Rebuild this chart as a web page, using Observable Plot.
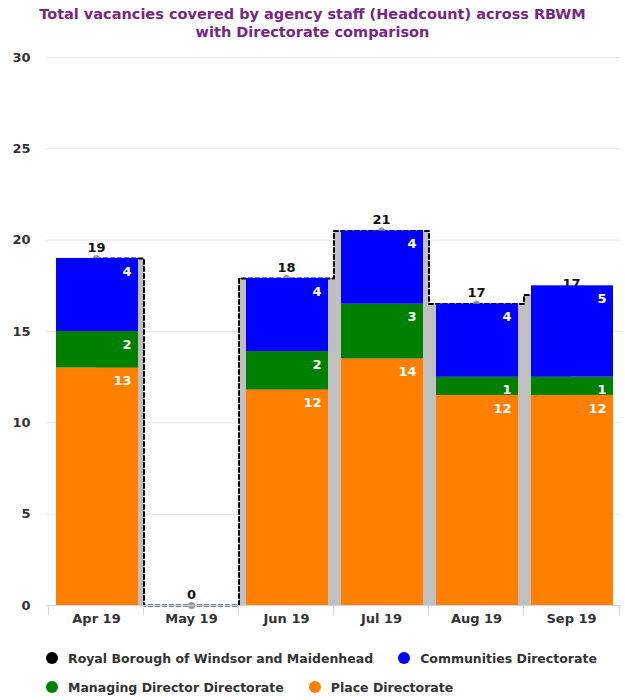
<!DOCTYPE html>
<html>
<head>
<meta charset="utf-8">
<script src="https://cdn.jsdelivr.net/npm/d3@7"></script>
<script src="https://cdn.jsdelivr.net/npm/@observablehq/plot@0.6"></script>
<style>
  body { margin: 0; background: #fff; font-family: "DejaVu Sans", sans-serif; }
  #wrap { width: 625px; }
  #title { height: 42px; box-sizing: border-box; padding-top: 5px; text-align: center;
           color: #76277f; font-weight: bold; font-size: 14.5px; line-height: 18px; }
  #legend { padding: 8px 0 0 46px; font-size: 12.5px; font-weight: bold; color: #333; }
  .row { display: flex; height: 16px; align-items: center; margin-bottom: 13px; }
  .item { display: flex; align-items: center; margin-right: 25px; white-space: nowrap; }
  .dot { width: 12px; height: 12px; border-radius: 50%; margin-right: 10px; }
</style>
</head>
<body>
<div id="wrap">
  <div id="title">Total vacancies covered by agency staff (Headcount) across RBWM<br>with Directorate comparison</div>
  <div id="chart"></div>
  <div id="legend"></div>
</div>
<script>
// Months on the x axis
const months = ["Apr 19", "May 19", "Jun 19", "Jul 19", "Aug 19", "Sep 19"];

// Council-wide total (drawn as a dashed step outline)
const rbwmTotal = [19, 0, 17.9, 20.5, 16.5, 17];

// Directorate headcounts (stacked bars); May has no agency staff
const placeValues = [13, null, 11.8, 13.5, 11.5, 11.5];
const managingValues = [2, null, 2.1, 3, 1, 1];
const communitiesValues = [4, null, 4, 4, 4, 5];

const seriesNames = [
  "Royal Borough of Windsor and Maidenhead",
  "Communities Directorate",
  "Managing Director Directorate",
  "Place Directorate"
];
const seriesColors = ["#000000", "#0000ff", "#008000", "#ff8000"];
const yTicks = [0, 5, 10, 15, 20, 25, 30];

// Stack order: Place at the bottom, then Managing Director, then Communities
const stackOrder = [
  ["Place Directorate", placeValues],
  ["Managing Director Directorate", managingValues],
  ["Communities Directorate", communitiesValues]
];
const stacked = stackOrder.flatMap(([dir, vals]) =>
  months.map((month, i) => ({month, dir, value: vals[i]})).filter(d => d.value != null)
);
const totals = months.map((month, i) => ({month, value: rbwmTotal[i]}));

const W = 625, H = 600, mt = 15, mb = 37, ml = 46, mr = 4;
const step = (W - ml - mr) / months.length;
const fmt = d => String(Math.round(d.value));

const chart = Plot.plot({
  width: W,
  height: H,
  marginTop: mt,
  marginBottom: mb,
  marginLeft: ml,
  marginRight: mr,
  style: "font-family: 'DejaVu Sans', sans-serif; font-weight: bold; background: #fff;",
  x: {type: "band", domain: months, paddingInner: 0.14, paddingOuter: 0.07, label: null},
  y: {domain: [0, 30], label: null},
  color: {domain: seriesNames, range: seriesColors},
  marks: [
    Plot.gridY(yTicks, {stroke: "#e6e6e6", strokeOpacity: 1}),
    Plot.axisY(yTicks, {tickSize: 0, tickPadding: 16, fontSize: 13, fill: "#333", fontWeight: "bold"}),
    Plot.areaY(totals, {x: "month", y: "value", curve: "step", fill: "#c0c0c0"}),
    Plot.lineY(totals, {x: "month", y: "value", curve: "step", stroke: "#000", strokeWidth: 2, strokeDasharray: "4,3"}),
    Plot.dot(totals, {x: "month", y: "value", r: 3.5, fill: "#999"}),
    Plot.text(totals, {x: "month", y: "value", text: fmt, dy: -11, fontSize: 13, fontWeight: "bold", fill: "#111"}),
    Plot.barY(stacked, {x: "month", y: "value", fill: "dir", order: stackOrder.map(d => d[0]), dx: 1}),
    Plot.text(stacked, Plot.stackY2({
      x: "month", y: "value", z: "dir", order: stackOrder.map(d => d[0]),
      text: fmt, dx: 35, dy: 13, textAnchor: "end", fill: "#fff", fontSize: 13, fontWeight: "bold"
    })),
    Plot.ruleY([0], {stroke: "#ccd6eb"}),
    Plot.ruleX(months, {x: d => d, y1: 0, y2: 0, insetBottom: -10, dx: -step / 2, stroke: "#ccd6eb"}),
    Plot.ruleX(months.slice(-1), {x: d => d, y1: 0, y2: 0, insetBottom: -10, dx: step / 2, stroke: "#ccd6eb"}),
    Plot.axisX({tickSize: 0, tickPadding: 8, fontSize: 13, fill: "#333", fontWeight: "bold"})
  ]
});
document.getElementById("chart").appendChild(chart);

// Legend laid out in two rows
const legendRows = [[0, 1], [2, 3]];
const legend = d3.select("#legend");
for (const row of legendRows) {
  const r = legend.append("div").attr("class", "row");
  for (const i of row) {
    const it = r.append("div").attr("class", "item");
    it.append("span").attr("class", "dot").style("background", seriesColors[i]);
    it.append("span").text(seriesNames[i]);
  }
}
</script>
</body>
</html>
